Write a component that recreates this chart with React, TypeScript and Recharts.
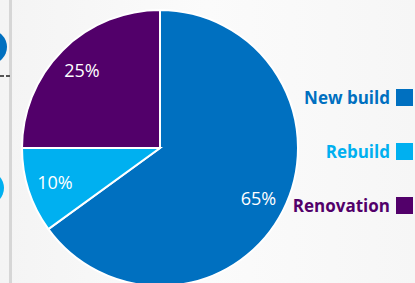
import { Legend, Pie, PieChart, Cell } from "recharts";

const categories = ["New build", "Rebuild", "Renovation"];
const shares = [65, 10, 25];
const colors = ["#0070C0", "#00B0F0", "#52006A"];

const data = categories.map((name, i) => ({ name, value: shares[i] }));

const RADIAN = Math.PI / 180;

function renderLabel(props: any) {
  const { cx, cy, midAngle, outerRadius, value } = props;
  const r = outerRadius * 0.8;
  const x = cx + r * Math.cos(-midAngle * RADIAN);
  const y = cy + r * Math.sin(-midAngle * RADIAN);
  return (
    <text
      x={x}
      y={y}
      fill="#ffffff"
      textAnchor="middle"
      dominantBaseline="central"
      fontSize={18}
      fontFamily="'Open Sans', sans-serif"
    >
      {`${value}%`}
    </text>
  );
}

function LegendBox() {
  return (
    <div style={{ display: "flex", flexDirection: "column", gap: 33 }}>
      {categories.map((name, i) => (
        <div
          key={name}
          style={{
            display: "flex",
            alignItems: "center",
            justifyContent: "flex-end",
            height: 21,
          }}
        >
          <span
            style={{
              color: colors[i],
              fontWeight: 700,
              fontSize: 17,
              fontFamily: "'Open Sans', sans-serif",
              marginRight: 6,
            }}
          >
            {name}
          </span>
          <span
            style={{ width: 17, height: 17, background: colors[i], display: "inline-block" }}
          />
        </div>
      ))}
    </div>
  );
}

export default function App() {
  return (
    <div
      style={{
        position: "absolute",
        left: 0,
        top: 0,
        width: 415,
        height: 283,
        overflow: "hidden",
        background: "linear-gradient(90deg, #f4f4f4 0%, #fbfbfb 50%, #f6f6f6 100%)",
      }}
    >
      <svg width={415} height={283} style={{ position: "absolute", left: 0, top: 0 }}>
        <rect x={9} y={0} width={3} height={283} fill="#d6d6d6" />
        <circle cx={-10} cy={47} r={17} fill="#0070C0" />
        <circle cx={-13} cy={188} r={17} fill="#00B0F0" />
        <line x1={0} y1={76} x2={12} y2={76} stroke="#555" strokeWidth={2} strokeDasharray="4 2" />
      </svg>
      <div style={{ position: "absolute", left: 0, top: 0 }}>
        <PieChart width={415} height={283} margin={{ top: 0, right: 0, bottom: 0, left: 0 }}>
          <Pie
            data={data}
            dataKey="value"
            nameKey="name"
            cx={160}
            cy={148}
            outerRadius={138}
            startAngle={90}
            endAngle={-270}
            stroke="#ffffff"
            strokeWidth={2}
            label={renderLabel}
            labelLine={false}
            isAnimationActive={false}
          >
            {data.map((d, i) => (
              <Cell key={d.name} fill={colors[i]} />
            ))}
          </Pie>
          <Legend
            content={() => <LegendBox />}
            wrapperStyle={{ position: "absolute", right: 2, top: 87, width: 140, left: "auto" }}
          />
        </PieChart>
      </div>
    </div>
  );
}
